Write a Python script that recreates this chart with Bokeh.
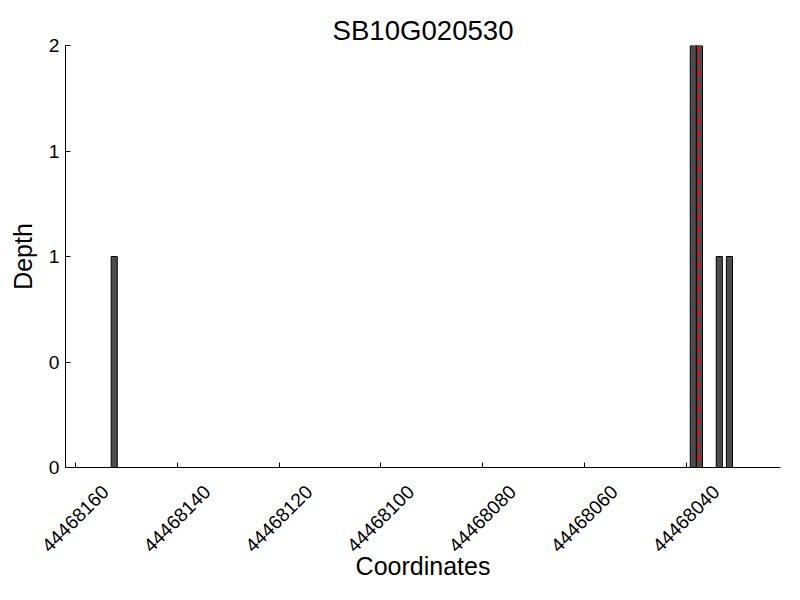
from bokeh.plotting import figure
from bokeh.models import Range1d, FixedTicker, CustomJSTickFormatter, Span, ColumnDataSource, LinearAxis
from bokeh.embed import file_html
from bokeh.resources import INLINE
import math

title_text = "SB10G020530"
positions = [44468152.4, 44468038.6, 44468037.4, 44468033.5, 44468031.5]
depths = [1, 2, 2, 1, 1]
marker_pos = 44468037.6
x_ticks = [44468160, 44468140, 44468120, 44468100, 44468080, 44468060, 44468040]
y_ticks = [0, 0.5, 1, 1.5, 2]
x_start, x_end = 44468161.97, 44468021.47

FONT = "Liberation Sans"
W, H = 784, 584
BL, BR = 65, 4

p = figure(width=W, height=H, output_backend="svg", toolbar_location=None,
           x_range=Range1d(x_start, x_end), y_range=Range1d(0, 2),
           min_border_left=BL, min_border_right=BR, min_border_top=45, min_border_bottom=117,
           title=title_text)
p.outline_line_color = None
p.grid.visible = False

p.title.align = "center"
p.title.text_font = FONT
p.title.text_font_size = "27.6px"
p.title.text_font_style = "normal"
p.title.text_color = "black"
p.title.standoff = 0

src = ColumnDataSource(dict(x=positions, top=depths))
p.vbar(x="x", top="top", bottom=0, width=1.2, source=src,
       fill_color="#4d4d4d", line_color="black", line_width=1)

p.add_layout(Span(location=marker_pos, dimension="height", line_color="red",
                  line_dash="7 5", line_width=2))

fmt = CustomJSTickFormatter(code="return Math.floor(tick).toString();")
for ax, ticks in ((p.xaxis[0], x_ticks), (p.yaxis[0], y_ticks)):
    ax.ticker = FixedTicker(ticks=ticks)
    ax.formatter = fmt
    ax.minor_tick_line_color = None
    ax.major_tick_in = 5
    ax.major_tick_out = 0
    ax.axis_line_color = "black"
    ax.major_tick_line_color = "black"
    ax.major_label_text_font = FONT
    ax.major_label_text_font_size = "19.2px"
    ax.major_label_text_color = "black"
    ax.axis_label_text_font = FONT
    ax.axis_label_text_font_size = "25px"
    ax.axis_label_text_font_style = "normal"
    ax.axis_label_text_color = "black"

p.yaxis.axis_label = "Depth"
p.yaxis.major_label_standoff = 6
p.yaxis.axis_label_standoff = 9
# main x axis: line + ticks only
p.xaxis.major_label_text_font_size = "0px"
p.xaxis.major_label_standoff = 0

# label axis: same scale shifted so the rotated labels sit centred under their ticks
shift_px = 30
upp = (x_start - x_end) / (W - BL - BR)
p.extra_x_ranges = {"labels": Range1d(x_start + shift_px * upp, x_end + shift_px * upp)}
lab_axis = LinearAxis(x_range_name="labels", ticker=FixedTicker(ticks=x_ticks), formatter=fmt,
                      axis_line_color=None, major_tick_line_color=None, minor_tick_line_color=None,
                      major_label_orientation=math.pi / 4, major_label_standoff=15,
                      major_label_text_font=FONT, major_label_text_font_size="19.2px",
                      major_label_text_color="black",
                      axis_label="Coordinates", axis_label_standoff=-9,
                      axis_label_text_font=FONT, axis_label_text_font_size="25px",
                      axis_label_text_font_style="normal", axis_label_text_color="black")
p.add_layout(lab_axis, "below")

open("out.html", "w").write(file_html(p, INLINE))
